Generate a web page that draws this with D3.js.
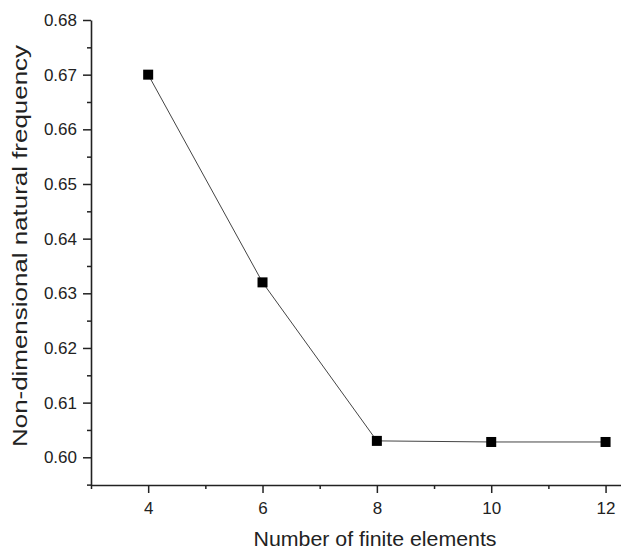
<!DOCTYPE html>
<html>
<head>
<meta charset="utf-8">
<script src="https://cdn.jsdelivr.net/npm/d3@7"></script>
<style>
  html, body { margin: 0; padding: 0; background: #fff; }
  svg { display: block; font-family: "Liberation Sans", Arial, sans-serif; }
</style>
</head>
<body>
<svg id="chart" width="621" height="549"></svg>
<script>
// Convergence of the non-dimensional natural frequency with mesh size
const elements = [4, 6, 8, 10, 12];
const frequency = [0.670, 0.632, 0.6030, 0.6028, 0.6028];
const xMajorTicks = [4, 6, 8, 10, 12];
const xMinorTicks = [3, 5, 7, 9, 11];
const yMajorTicks = [0.60, 0.61, 0.62, 0.63, 0.64, 0.65, 0.66, 0.67, 0.68];
const yMinorTicks = [0.595, 0.605, 0.615, 0.625, 0.635, 0.645, 0.655, 0.665, 0.675];

const svg = d3.select("#chart");
const margin = { left: 91, right: 0, top: 20, bottom: 64 };
const W = 621, H = 549;

const x = d3.scaleLinear().domain([3, 12.27]).range([margin.left, W - margin.right]);
const y = d3.scaleLinear().domain([0.59493, 0.68]).range([H - margin.bottom, margin.top]);

const axisColor = "#222";

// X axis: major ticks with labels, minor ticks between
const gx = svg.append("g").attr("transform", `translate(0,${H - margin.bottom})`);
gx.call(d3.axisBottom(x).tickValues(xMajorTicks).tickSize(8).tickSizeOuter(0).tickPadding(9)
  .tickFormat(d3.format("d")));
gx.append("g").call(d3.axisBottom(x).tickValues(xMinorTicks).tickSize(4).tickSizeOuter(0).tickFormat(""))
  .select(".domain").remove();

// Y axis
const gy = svg.append("g").attr("transform", `translate(${margin.left},0)`);
gy.call(d3.axisLeft(y).tickValues(yMajorTicks).tickSize(8).tickSizeOuter(0).tickPadding(6)
  .tickFormat(d3.format(".2f")));
gy.append("g").call(d3.axisLeft(y).tickValues(yMinorTicks).tickSize(4).tickSizeOuter(0).tickFormat(""))
  .select(".domain").remove();

svg.selectAll(".domain").attr("stroke", axisColor).attr("stroke-width", 1.6);
svg.selectAll(".tick line").attr("stroke", axisColor).attr("stroke-width", 1.5);
svg.selectAll(".tick text").attr("fill", "#222").style("font-size", "17px")
  .style("font-family", "'Liberation Sans', Arial, sans-serif");

// Axis titles
svg.append("text")
  .attr("x", 375).attr("y", 546)
  .attr("text-anchor", "middle")
  .attr("fill", "#222")
  .attr("textLength", 243)
  .attr("lengthAdjust", "spacingAndGlyphs")
  .style("font-size", "20px")
  .text("Number of finite elements");

svg.append("text")
  .attr("transform", "translate(27,246) rotate(-90)")
  .attr("text-anchor", "middle")
  .attr("fill", "#222")
  .attr("textLength", 402)
  .attr("lengthAdjust", "spacingAndGlyphs")
  .style("font-size", "20px")
  .text("Non-dimensional natural frequency");

// Data line and square markers
const pts = elements.map((e, i) => [e, frequency[i]]);
svg.append("path")
  .datum(pts)
  .attr("fill", "none")
  .attr("stroke", "#444")
  .attr("stroke-width", 1)
  .attr("d", d3.line().x(d => x(d[0])).y(d => y(d[1])));

const s = 10;
svg.selectAll("rect.marker")
  .data(pts)
  .join("rect")
  .attr("class", "marker")
  .attr("x", d => x(d[0]) - s / 2)
  .attr("y", d => y(d[1]) - s / 2)
  .attr("width", s)
  .attr("height", s)
  .attr("fill", "#000");
</script>
</body>
</html>
